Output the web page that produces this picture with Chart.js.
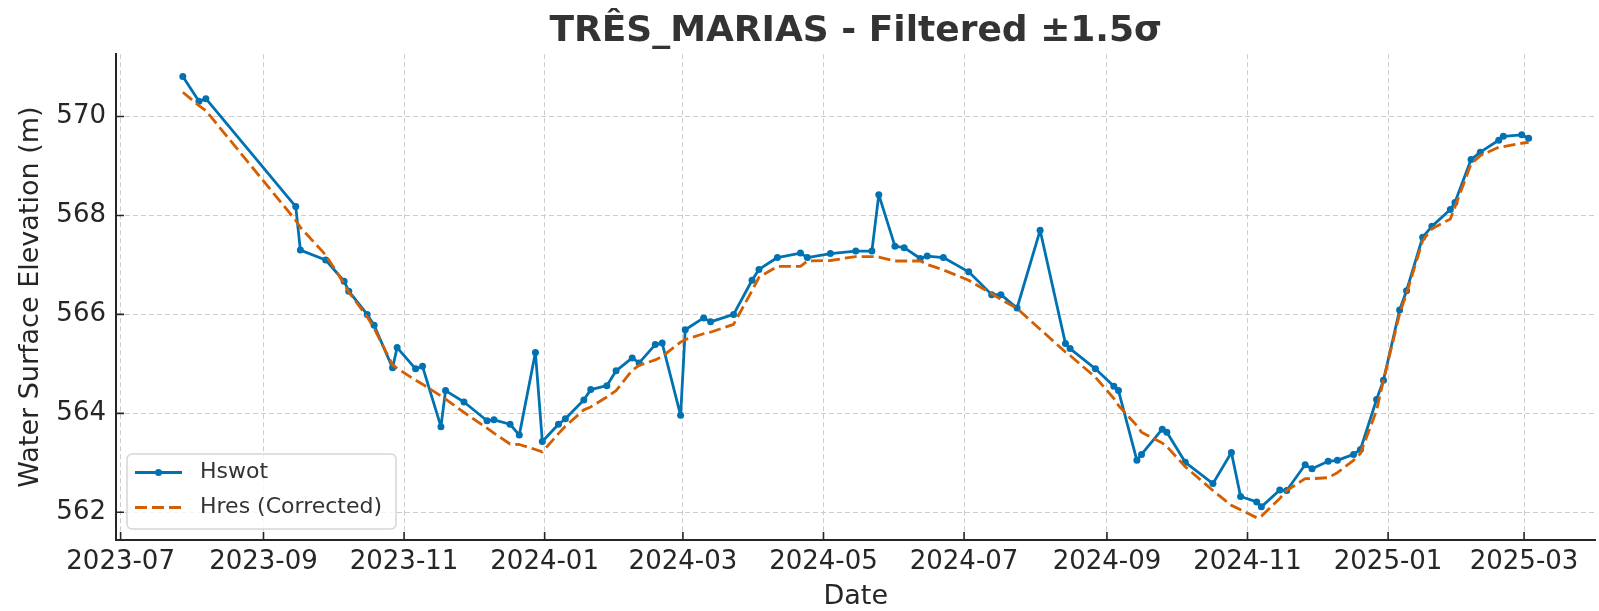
<!DOCTYPE html>
<html>
<head>
<meta charset="utf-8">
<title>TRÊS_MARIAS - Filtered ±1.5σ</title>
<script src="https://cdn.jsdelivr.net/npm/chart.js@4.4.1/dist/chart.umd.min.js"></script>
<style>
    html, body { margin: 0; padding: 0; background: #fff; }
    #wrap { width: 1599px; height: 611px; }
</style>
</head>
<body>
<div id="wrap"><canvas id="elevChart" width="1599" height="611"></canvas></div>
<script>
// observation dates (SWOT passes)
const obsDates = [
    '2023-07-28', '2023-08-04', '2023-08-07', '2023-09-15', '2023-09-17', '2023-09-28',
    '2023-10-06', '2023-10-08', '2023-10-16', '2023-10-19', '2023-10-27', '2023-10-29',
    '2023-11-06', '2023-11-09', '2023-11-17', '2023-11-19', '2023-11-27', '2023-12-07',
    '2023-12-10', '2023-12-17', '2023-12-21', '2023-12-28', '2023-12-31', '2024-01-07',
    '2024-01-10', '2024-01-18', '2024-01-21', '2024-01-28', '2024-02-01', '2024-02-08',
    '2024-02-11', '2024-02-18', '2024-02-21', '2024-02-29', '2024-03-02', '2024-03-10',
    '2024-03-13', '2024-03-23', '2024-03-31', '2024-04-03', '2024-04-11', '2024-04-21',
    '2024-04-24', '2024-05-04', '2024-05-15', '2024-05-22', '2024-05-25', '2024-06-01',
    '2024-06-05', '2024-06-12', '2024-06-15', '2024-06-22', '2024-07-03', '2024-07-13',
    '2024-07-17', '2024-07-24', '2024-08-03', '2024-08-14', '2024-08-16', '2024-08-27',
    '2024-09-04', '2024-09-06', '2024-09-14', '2024-09-16', '2024-09-25', '2024-09-27',
    '2024-10-05', '2024-10-17', '2024-10-25', '2024-10-29', '2024-11-05', '2024-11-07',
    '2024-11-15', '2024-11-18', '2024-11-26', '2024-11-29', '2024-12-06', '2024-12-10',
    '2024-12-17', '2024-12-20', '2024-12-27', '2024-12-30', '2025-01-06', '2025-01-09',
    '2025-01-16', '2025-01-20', '2025-01-28', '2025-01-30', '2025-02-06', '2025-02-10',
    '2025-02-18', '2025-02-20', '2025-02-28', '2025-03-03'
];

const hswot = [
    570.81, 570.31, 570.36, 568.18, 567.30, 567.10,
    566.67, 566.47, 566.00, 565.78, 564.92, 565.33,
    564.90, 564.95, 563.73, 564.46, 564.23, 563.85,
    563.87, 563.78, 563.56, 565.23, 563.43, 563.78,
    563.89, 564.27, 564.48, 564.56, 564.86, 565.12,
    565.02, 565.39, 565.42, 563.96, 565.69, 565.93,
    565.85, 566.00, 566.69, 566.91, 567.15, 567.24,
    567.15, 567.23, 567.28, 567.28, 568.42, 567.38,
    567.35, 567.13, 567.18, 567.15, 566.86, 566.40,
    566.40, 566.13, 567.70, 565.41, 565.31, 564.90,
    564.55, 564.46, 563.05, 563.17, 563.68, 563.62,
    563.01, 562.58, 563.21, 562.32, 562.21, 562.11,
    562.45, 562.44, 562.96, 562.88, 563.03, 563.05,
    563.17, 563.27, 564.28, 564.67, 566.09, 566.48,
    567.56, 567.78, 568.12, 568.26, 569.13, 569.28,
    569.52, 569.60, 569.63, 569.56
];

const hres = [
    570.49, 570.22, 570.12, 567.90, 567.76, 567.20,
    566.62, 566.45, 565.95, 565.72, 564.98, 564.91,
    564.67, 564.59, 564.35, 564.29, 564.02, 563.70,
    563.60, 563.38, 563.37, 563.27, 563.22, 563.59,
    563.74, 564.07, 564.13, 564.33, 564.46, 564.87,
    564.97, 565.08, 565.15, 565.44, 565.49, 565.61,
    565.64, 565.80, 566.48, 566.75, 566.97, 566.97,
    567.08, 567.09, 567.17, 567.17, 567.16, 567.08,
    567.08, 567.08, 567.01, 566.90, 566.69, 566.42,
    566.30, 566.12, 565.70, 565.24, 565.17, 564.73,
    564.30, 564.16, 563.75, 563.62, 563.40, 563.33,
    562.92, 562.44, 562.14, 562.05, 561.89, 561.92,
    562.28, 562.44, 562.68, 562.68, 562.70, 562.80,
    563.05, 563.19, 564.06, 564.67, 566.01, 566.42,
    567.49, 567.73, 567.93, 568.17, 569.04, 569.21,
    569.38, 569.39, 569.46, 569.48
];

const xTickDates = [
    '2023-07-01', '2023-09-01', '2023-11-01', '2024-01-01', '2024-03-01', '2024-05-01',
    '2024-07-01', '2024-09-01', '2024-11-01', '2025-01-01', '2025-03-01'
];
const yTicks = [562, 564, 566, 568, 570];

const xStart = '2023-06-29';
const xEnd = '2025-04-01';
const yMin = 561.44;
const yMax = 571.26;

const DAY0 = Date.UTC(2023, 6, 1);
function toDay(s) {
    const [y, m, d] = s.split('-').map(Number);
    return (Date.UTC(y, m - 1, d) - DAY0) / 86400000;
}

const textColor = '#262626';
Chart.defaults.font.family = '"DejaVu Sans", sans-serif';

// matplotlib style ticks pointing into the axes
const innerTicks = {
    id: 'innerTicks',
    afterDraw(chart) {
        const { ctx, chartArea, scales } = chart;
        ctx.save();
        ctx.strokeStyle = textColor;
        ctx.lineWidth = 1.6;
        ctx.beginPath();
        scales.x.ticks.forEach(t => {
            const px = scales.x.getPixelForValue(t.value);
            ctx.moveTo(px, chartArea.bottom);
            ctx.lineTo(px, chartArea.bottom - 8);
        });
        scales.y.ticks.forEach(t => {
            const py = scales.y.getPixelForValue(t.value);
            ctx.moveTo(chartArea.left, py);
            ctx.lineTo(chartArea.left + 8, py);
        });
        ctx.stroke();
        ctx.restore();
    }
};

// legend box in the lower left corner of the axes
const legendBox = {
    id: 'legendBox',
    afterDraw(chart) {
        const { ctx, chartArea } = chart;
        const w = 269, h = 75;
        const x = chartArea.left + 11;
        const y = chartArea.bottom - 11 - h;
        ctx.save();
        ctx.fillStyle = 'rgba(255,255,255,0.8)';
        ctx.strokeStyle = '#d6d6d6';
        ctx.lineWidth = 1.5;
        ctx.beginPath();
        ctx.roundRect(x, y, w, h, 5);
        ctx.fill();
        ctx.stroke();

        chart.data.datasets.forEach((ds, i) => {
            const cy = y + 18.5 + i * 35;
            ctx.strokeStyle = ds.borderColor;
            ctx.lineWidth = ds.borderWidth;
            ctx.setLineDash(ds.borderDash || []);
            ctx.beginPath();
            ctx.moveTo(x + 8, cy);
            ctx.lineTo(x + 55, cy);
            ctx.stroke();
            ctx.setLineDash([]);
            if (ds.pointRadius) {
                ctx.fillStyle = ds.borderColor;
                ctx.beginPath();
                ctx.arc(x + 31.5, cy, ds.pointRadius, 0, Math.PI * 2);
                ctx.fill();
            }
            ctx.fillStyle = '#333333';
            ctx.font = '22px "DejaVu Sans"';
            ctx.textBaseline = 'middle';
            ctx.fillText(ds.label, x + 73, cy);
        });
        ctx.restore();
    }
};

const canvas = document.getElementById('elevChart');

new Chart(canvas, {
    type: 'line',
    data: {
        datasets: [
            {
                label: 'Hswot',
                data: obsDates.map((d, i) => ({ x: toDay(d), y: hswot[i] })),
                borderColor: '#0072B2',
                backgroundColor: '#0072B2',
                borderWidth: 2.8,
                borderJoinStyle: 'round',
                borderCapStyle: 'round',
                pointRadius: 3.5,
                pointHoverRadius: 3.5,
                pointBorderWidth: 0,
                tension: 0,
                order: 1
            },
            {
                label: 'Hres (Corrected)',
                data: obsDates.map((d, i) => ({ x: toDay(d), y: hres[i] })),
                borderColor: '#D55E00',
                backgroundColor: '#D55E00',
                borderWidth: 2.8,
                borderDash: [12, 5],
                borderJoinStyle: 'round',
                pointRadius: 0,
                tension: 0,
                order: 0
            }
        ]
    },
    options: {
        responsive: false,
        animation: false,
        devicePixelRatio: 1,
        layout: { padding: 0 },
        plugins: {
            legend: { display: false },
            tooltip: { enabled: false },
            title: {
                display: true,
                fullSize: false,
                text: 'TRÊS_MARIAS - Filtered ±1.5σ',
                color: '#333333',
                font: { size: 36, weight: 'bold', lineHeight: 1.2 },
                padding: { top: 10, bottom: 1 }
            }
        },
        scales: {
            x: {
                type: 'linear',
                min: toDay(xStart),
                max: toDay(xEnd),
                afterBuildTicks: scale => {
                    scale.ticks = xTickDates.map(d => ({ value: toDay(d) }));
                },
                afterFit: scale => { scale.height = 71; },
                ticks: {
                    autoSkip: false,
                    maxRotation: 0,
                    color: textColor,
                    font: { size: 26 },
                    padding: 7,
                    callback: (value, index) => xTickDates[index].slice(0, 7)
                },
                grid: { color: '#cccccc', lineWidth: 1, drawTicks: false },
                border: { display: true, color: textColor, width: 2, dash: [5, 3] },
                title: {
                    display: true,
                    text: 'Date',
                    color: textColor,
                    font: { size: 27 },
                    padding: { top: 0, bottom: -2 }
                }
            },
            y: {
                min: yMin,
                max: yMax,
                afterBuildTicks: scale => {
                    scale.ticks = yTicks.map(v => ({ value: v }));
                },
                afterFit: scale => { scale.width = 116; },
                ticks: {
                    color: textColor,
                    font: { size: 26 },
                    padding: 10,
                    callback: value => String(value)
                },
                grid: { color: '#cccccc', lineWidth: 1, drawTicks: false },
                border: { display: true, color: textColor, width: 2, dash: [5, 3] },
                title: {
                    display: true,
                    text: 'Water Surface Elevation (m)',
                    color: textColor,
                    font: { size: 27 },
                    padding: { top: 15, bottom: 0 }
                }
            }
        }
    },
    plugins: [innerTicks, legendBox]
});
</script>
</body>
</html>
